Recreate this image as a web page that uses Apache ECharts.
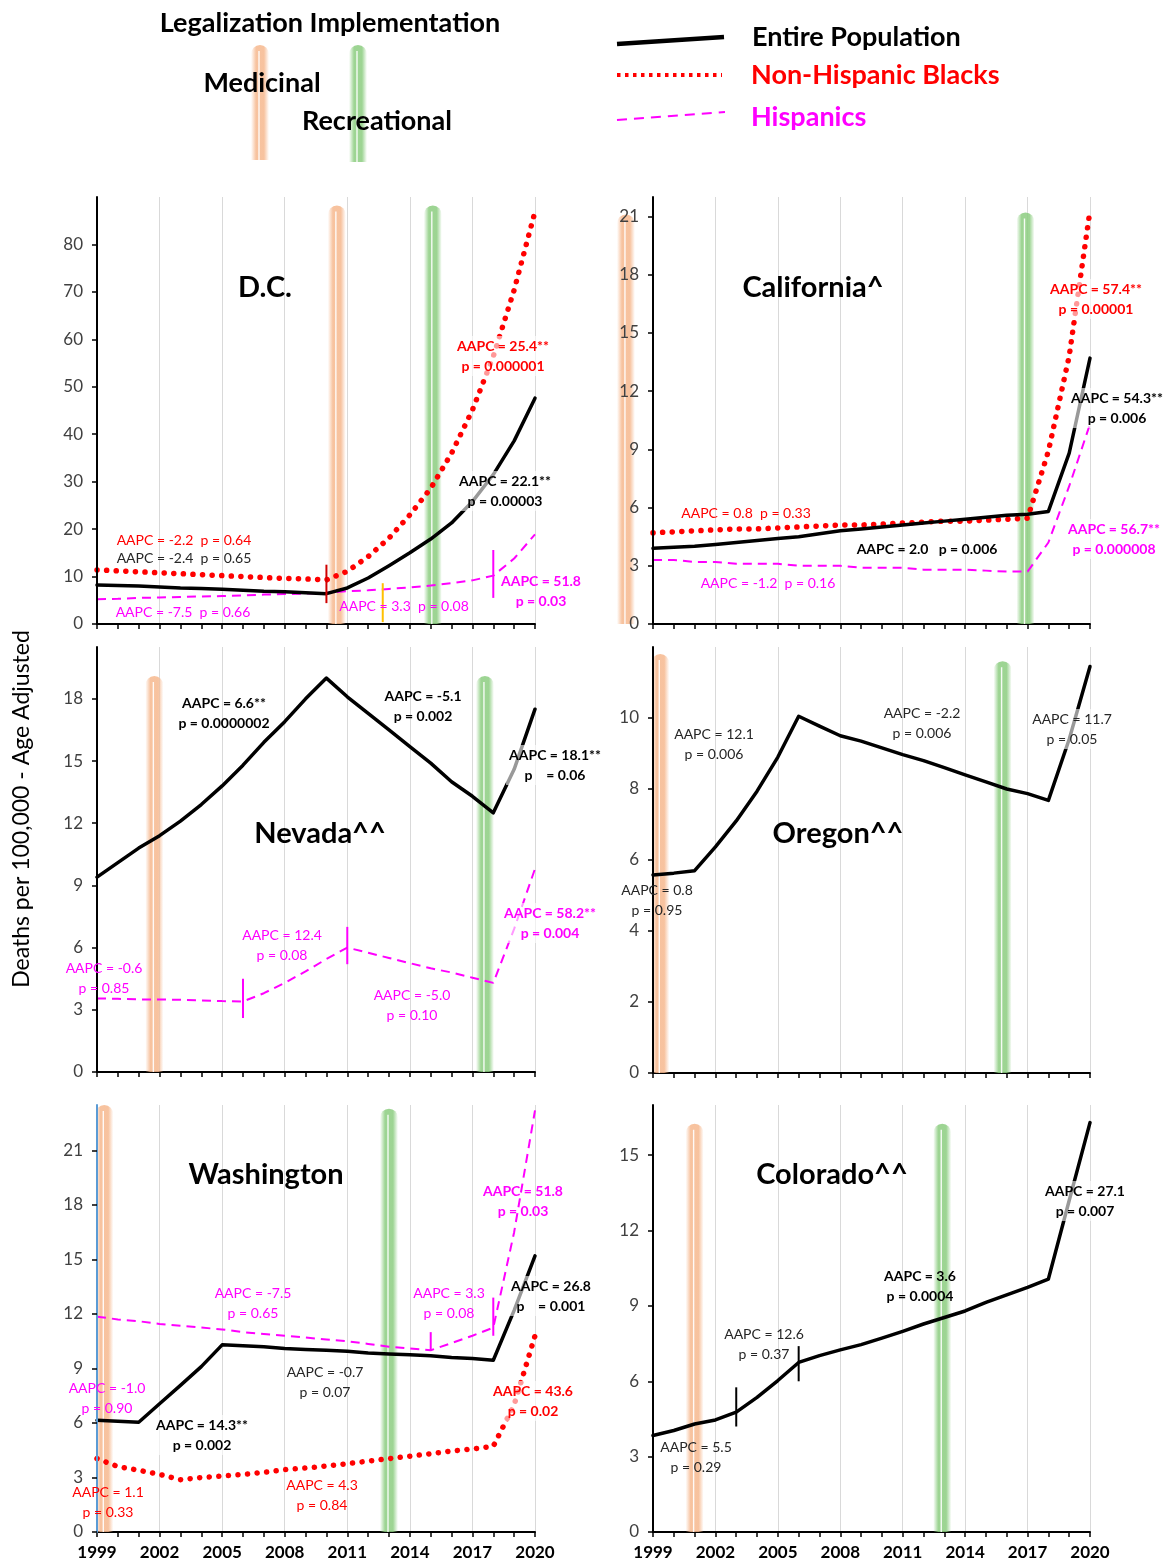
<!DOCTYPE html>
<html>
<head>
<meta charset="utf-8">
<script src="https://cdn.jsdelivr.net/npm/echarts@6/dist/echarts.min.js"></script>
<style>
  html, body { margin: 0; padding: 0; background: #fff; }
  #chart { width: 1168px; height: 1563px; }
</style>
</head>
<body>
<div id="chart"></div>
<script>
// ---- years and x-axis ticks ----
const BASE_YEAR = 1999;
const years = [1999, 2000, 2001, 2002, 2003, 2004, 2005, 2006, 2007, 2008, 2009,
               2010, 2011, 2012, 2013, 2014, 2015, 2016, 2017, 2018, 2019, 2020];
const xTickYears = [1999, 2002, 2005, 2008, 2011, 2014, 2017, 2020];

// ---- D.C. ----
const dcEntire    = [8.2, 8.1, 8.0, 7.8, 7.6, 7.5, 7.3, 7.1, 6.9, 6.8, 6.6, 6.4, 7.6, 9.7, 12.3, 15.0, 17.9, 21.3, 25.8, 31.5, 38.6, 47.6];
const dcBlacks    = [11.4, 11.2, 11.0, 10.8, 10.6, 10.4, 10.2, 10.0, 9.8, 9.6, 9.5, 9.3, 11.1, 14.2, 18.1, 23.0, 28.6, 36.0, 45.1, 56.4, 70.4, 86.9];
const dcHispanics = [5.2, 5.3, 5.5, 5.6, 5.7, 5.8, 5.9, 6.0, 6.2, 6.3, 6.4, 6.6, 6.9, 7.1, 7.4, 7.7, 8.1, 8.6, 9.2, 10.2, 13.8, 18.9];
const dcTicks = [0, 10, 20, 30, 40, 50, 60, 70, 80];

// ---- California ----
const caEntire    = [3.9, 3.95, 4.0, 4.1, 4.2, 4.3, 4.4, 4.5, 4.65, 4.8, 4.9, 5.0, 5.1, 5.2, 5.3, 5.4, 5.5, 5.6, 5.65, 5.8, 8.8, 13.7];
const caBlacks    = [4.7, 4.75, 4.8, 4.85, 4.9, 4.9, 4.95, 5.0, 5.05, 5.1, 5.1, 5.15, 5.2, 5.25, 5.3, 5.3, 5.35, 5.4, 5.45, 8.9, 13.8, 21.3];
const caHispanics = [3.3, 3.3, 3.2, 3.2, 3.1, 3.1, 3.1, 3.0, 3.0, 3.0, 2.9, 2.9, 2.9, 2.8, 2.8, 2.8, 2.75, 2.7, 2.7, 4.2, 7.1, 10.3];
const caTicks = [0, 3, 6, 9, 12, 15, 18, 21];

// ---- Nevada ----
const nvEntire    = [9.4, 10.1, 10.8, 11.4, 12.1, 12.9, 13.8, 14.8, 15.9, 16.9, 18.0, 19.0, 18.1, 17.3, 16.5, 15.7, 14.9, 14.0, 13.3, 12.5, 14.6, 17.5];
const nvHispanics = [3.55, 3.53, 3.5, 3.5, 3.48, 3.45, 3.42, 3.4, 3.8, 4.3, 4.85, 5.45, 6.0, 5.75, 5.5, 5.25, 5.0, 4.8, 4.55, 4.3, 6.9, 9.8];
const nvTicks = [0, 3, 6, 9, 12, 15, 18];

// ---- Oregon ----
const orEntire = [5.58, 5.63, 5.7, 6.37, 7.1, 7.94, 8.9, 10.05, 9.77, 9.5, 9.35, 9.16, 8.97, 8.8, 8.6, 8.4, 8.2, 8.0, 7.87, 7.68, 9.4, 11.45];
const orTicks = [0, 2, 4, 6, 8, 10];

// ---- Washington ----
const waEntire    = [6.15, 6.1, 6.04, 7.06, 8.07, 9.1, 10.3, 10.25, 10.2, 10.1, 10.05, 10.0, 9.95, 9.85, 9.8, 9.75, 9.7, 9.6, 9.55, 9.45, 12.2, 15.2];
const waBlacks    = [4.04, 3.6, 3.4, 3.17, 2.88, 3.0, 3.08, 3.17, 3.28, 3.43, 3.52, 3.63, 3.76, 3.9, 4.04, 4.17, 4.31, 4.46, 4.57, 4.72, 7.0, 10.8];
const waHispanics = [11.85, 11.7, 11.6, 11.45, 11.35, 11.25, 11.15, 11.0, 10.9, 10.8, 10.7, 10.6, 10.5, 10.35, 10.2, 10.1, 10.0, 10.4, 10.8, 11.25, 16.5, 23.2];
const waTicks = [0, 3, 6, 9, 12, 15, 18, 21];

// ---- Colorado ----
const coEntire = [3.84, 4.04, 4.3, 4.46, 4.77, 5.36, 6.03, 6.75, 7.02, 7.25, 7.46, 7.72, 7.99, 8.28, 8.54, 8.8, 9.14, 9.44, 9.74, 10.07, 13.2, 16.3];
const coTicks = [0, 3, 6, 9, 12, 15];

// ---- legalization implementation bands: [year, top value, kind] ----
const MEDICINAL = 0, RECREATIONAL = 1;
const dcBands = [[2010.5, 88.2, MEDICINAL], [2015.1, 88.2, RECREATIONAL]];
const caBands = [[1997.7, 21.1, MEDICINAL], [2016.9, 21.2, RECREATIONAL]];
const nvBands = [[2001.75, 19.1, MEDICINAL], [2017.6, 19.1, RECREATIONAL]];
const orBands = [[1999.35, 11.8, MEDICINAL], [2015.8, 11.6, RECREATIONAL]];
const waBands = [[1999.35, 23.5, MEDICINAL], [2013.0, 23.3, RECREATIONAL]];
const coBands = [[2001.0, 16.25, MEDICINAL], [2012.9, 16.25, RECREATIONAL]];

// ---- joinpoint markers: [year, low, high, group] ----
const dcJoins = [[2010, 4.4, 12.5, 'blacks'], [2012.7, 0.4, 8.6, 'hispanicsAlt'], [2018, 5.5, 15.6, 'hispanics']];
const nvJoins = [[2006, 2.6, 4.5, 'hispanics'], [2011, 5.2, 7.0, 'hispanics']];
const waJoins = [[2015, 10.0, 11.0, 'hispanics'], [2018, 10.8, 12.9, 'hispanics']];
const coJoins = [[2003, 4.2, 5.76, 'entire'], [2006, 6.0, 7.4, 'entire']];

// ---- styling ----
const FONT = 'Lato, "Open Sans", sans-serif';
const BLACK = '#000000', DARK = '#262626', RED = '#ff0000', MAG = '#ff00ff';
const MED_RGB = '246,184,142', REC_RGB = '140,205,128';
const JOIN_COLORS = { entire: '#000000', blacks: '#d00000', hispanics: '#ff00ff', hispanicsAlt: '#ffc000' };

const panels = [
  { entire: dcEntire, blacks: dcBlacks, hispanics: dcHispanics, yMax: 90,   ticks: dcTicks, bands: dcBands, joins: dcJoins, grid: [97, 197, 438, 427], showX: false },
  { entire: caEntire, blacks: caBlacks, hispanics: caHispanics, yMax: 22,   ticks: caTicks, bands: caBands, joins: [],      grid: [653, 197, 437, 427], showX: false },
  { entire: nvEntire, hispanics: nvHispanics,                   yMax: 20.5, ticks: nvTicks, bands: nvBands, joins: nvJoins, grid: [97, 647, 438, 425], showX: false },
  { entire: orEntire,                                           yMax: 12,   ticks: orTicks, bands: orBands, joins: [],      grid: [653, 647, 437, 426], showX: false },
  { entire: waEntire, blacks: waBlacks, hispanics: waHispanics, yMax: 23.5, ticks: waTicks, bands: waBands, joins: waJoins, grid: [97, 1105, 438, 427], showX: true, axisColor: '#5b9bd5' },
  { entire: coEntire,                                           yMax: 17,   ticks: coTicks, bands: coBands, joins: coJoins, grid: [653, 1105, 437, 427], showX: true }
];

// panel titles: [text, cx, cy]
const titles = [
  ['D.C.', 265, 288], ['California^', 813, 288], ['Nevada^^', 320, 834],
  ['Oregon^^', 838, 834], ['Washington', 266, 1175], ['Colorado^^', 832, 1175]
];

// AAPC annotations: [text, cx, cy, color, bold, backdrop]
const notes = [
  ['AAPC = -2.2  p = 0.64', 184, 540, RED, false, false],
  ['AAPC = -2.4  p = 0.65', 184, 558, DARK, false, false],
  ['AAPC = -7.5  p = 0.66', 183, 612, MAG, false, false],
  ['AAPC = 3.3  p = 0.08', 404, 606, MAG, false, false],
  ['AAPC = 51.8\np = 0.03', 541, 591, MAG, true, false],
  ['AAPC = 25.4**\np = 0.000001', 503, 356, RED, true, true],
  ['AAPC = 22.1**\np = 0.00003', 505, 491, BLACK, true, true],

  ['AAPC = 57.4**\np = 0.00001', 1096, 299, RED, true, true],
  ['AAPC = 54.3**\np = 0.006', 1117, 408, BLACK, true, true],
  ['AAPC = 0.8  p = 0.33', 746, 513, RED, false, false],
  ['AAPC = 2.0   p = 0.006', 927, 549, BLACK, true, false],
  ['AAPC = 56.7**\np = 0.000008', 1114, 539, MAG, true, true],
  ['AAPC = -1.2  p = 0.16', 768, 583, MAG, false, false],

  ['AAPC = 6.6**\np = 0.0000002', 224, 713, BLACK, true, false],
  ['AAPC = -5.1\np = 0.002', 423, 706, BLACK, true, false],
  ['AAPC = 18.1**\np    = 0.06', 555, 765, BLACK, true, true],
  ['AAPC = 12.4\np = 0.08', 282, 945, MAG, false, false],
  ['AAPC = -0.6\np = 0.85', 104, 978, MAG, false, false],
  ['AAPC = -5.0\np = 0.10', 412, 1005, MAG, false, false],
  ['AAPC = 58.2**\np = 0.004', 550, 923, MAG, true, true],

  ['AAPC = 12.1\np = 0.006', 714, 744, DARK, false, false],
  ['AAPC = -2.2\np = 0.006', 922, 723, DARK, false, false],
  ['AAPC = 11.7\np = 0.05', 1072, 729, DARK, false, true],
  ['AAPC = 0.8\np = 0.95', 657, 900, DARK, false, false],

  ['AAPC = 51.8\np = 0.03', 523, 1201, MAG, true, false],
  ['AAPC = -7.5\np = 0.65', 253, 1303, MAG, false, false],
  ['AAPC = 3.3\np = 0.08', 449, 1303, MAG, false, false],
  ['AAPC = 26.8\np    = 0.001', 551, 1296, BLACK, true, true],
  ['AAPC = -0.7\np = 0.07', 325, 1382, DARK, false, false],
  ['AAPC = -1.0\np = 0.90', 107, 1398, MAG, false, false],
  ['AAPC = 14.3**\np = 0.002', 202, 1435, BLACK, true, true],
  ['AAPC = 43.6\np = 0.02', 533, 1401, RED, true, true],
  ['AAPC = 4.3\np = 0.84', 322, 1495, RED, false, false],
  ['AAPC = 1.1\np = 0.33', 108, 1502, RED, false, false],

  ['AAPC = 27.1\np = 0.007', 1085, 1201, BLACK, true, true],
  ['AAPC = 3.6\np = 0.0004', 920, 1286, BLACK, true, false],
  ['AAPC = 12.6\np = 0.37', 764, 1344, DARK, false, false],
  ['AAPC = 5.5\np = 0.29', 696, 1457, DARK, false, false]
];

const toXY = vals => years.map((y, i) => [y - BASE_YEAR, vals[i]]);

// soft vertical stripe with a thin white core line
function softBand(cx, yTop, yBot, rgb) {
  const w = 18;
  const grad = new echarts.graphic.LinearGradient(0, 0, 1, 0, [
    { offset: 0, color: 'rgba(' + rgb + ',0)' },
    { offset: 0.28, color: 'rgba(' + rgb + ',0.85)' },
    { offset: 0.72, color: 'rgba(' + rgb + ',0.85)' },
    { offset: 1, color: 'rgba(' + rgb + ',0)' }
  ]);
  return [
    { type: 'rect', shape: { x: cx - w / 2, y: yTop, width: w, height: yBot - yTop, r: [9, 9, 0, 0] },
      style: { fill: grad } },
    { type: 'line', shape: { x1: cx - 1, y1: yTop + 6, x2: cx - 1, y2: yBot },
      style: { stroke: 'rgba(255,255,255,0.9)', lineWidth: 1.4 } }
  ];
}

function bandRenderer(params, api) {
  const x = api.value(0), top = api.value(1), kind = api.value(2);
  const pTop = api.coord([x, top]);
  const pBot = api.coord([x, 0]);
  return { type: 'group', children: softBand(pTop[0], pTop[1], pBot[1], kind === MEDICINAL ? MED_RGB : REC_RGB) };
}

const series = [];
panels.forEach((p, i) => {
  series.push({
    type: 'custom', xAxisIndex: i, yAxisIndex: i, z: 1, silent: true, clip: false,
    data: p.bands.map(b => [b[0] - BASE_YEAR, b[1], b[2]]),
    renderItem: bandRenderer
  });
  if (p.hispanics) series.push({
    type: 'line', xAxisIndex: i, yAxisIndex: i, z: 3, showSymbol: false, silent: true,
    data: toXY(p.hispanics),
    lineStyle: { color: MAG, width: 2, type: [9, 6] }
  });
  if (p.blacks) series.push({
    type: 'line', xAxisIndex: i, yAxisIndex: i, z: 3, showSymbol: false, silent: true,
    data: toXY(p.blacks),
    lineStyle: { color: RED, width: 5.5, type: [0.1, 9.5], cap: 'round' }
  });
  series.push({
    type: 'line', xAxisIndex: i, yAxisIndex: i, z: 4, showSymbol: false, silent: true,
    data: toXY(p.entire),
    lineStyle: { color: BLACK, width: 3.5, cap: 'round', join: 'round' }
  });
  if (p.joins.length) {
    const joins = p.joins;
    series.push({
      type: 'custom', xAxisIndex: i, yAxisIndex: i, z: 5, silent: true, clip: false,
      data: joins.map(j => [j[0] - BASE_YEAR, j[1], j[2]]),
      renderItem: (params, api) => {
        const a = api.coord([api.value(0), api.value(1)]);
        const b = api.coord([api.value(0), api.value(2)]);
        return { type: 'line', shape: { x1: a[0], y1: a[1], x2: b[0], y2: b[1] },
                 style: { stroke: JOIN_COLORS[joins[params.dataIndex][3]], lineWidth: 2 } };
      }
    });
  }
});

const graphic = [];
// legend: implementation bands
[[260, 45, 160, MED_RGB], [358, 45, 162, REC_RGB]].forEach(([cx, y0, y1, rgb]) => {
  softBand(cx, y0, y1, rgb).forEach(el => { el.z = 50; graphic.push(el); });
});
const LEGEND_FONT = 'bold 27px ' + FONT;
graphic.push(
  { type: 'text', z: 60, x: 330, y: 23, style: { text: 'Legalization Implementation', font: LEGEND_FONT, fill: BLACK, align: 'center', verticalAlign: 'middle' } },
  { type: 'text', z: 60, x: 262, y: 83, style: { text: 'Medicinal', font: LEGEND_FONT, fill: BLACK, align: 'center', verticalAlign: 'middle' } },
  { type: 'text', z: 60, x: 377, y: 121, style: { text: 'Recreational', font: LEGEND_FONT, fill: BLACK, align: 'center', verticalAlign: 'middle' } },
  // legend: series line samples
  { type: 'line', z: 60, shape: { x1: 617, y1: 44, x2: 724, y2: 37 }, style: { stroke: BLACK, lineWidth: 4.5 } },
  { type: 'line', z: 60, shape: { x1: 617, y1: 75, x2: 722, y2: 75 }, style: { stroke: RED, lineWidth: 4, lineDash: [3.5, 4.5] } },
  { type: 'line', z: 60, shape: { x1: 617, y1: 120, x2: 725, y2: 112 }, style: { stroke: MAG, lineWidth: 2, lineDash: [10, 7] } },
  { type: 'text', z: 60, x: 752, y: 37, style: { text: 'Entire Population', font: LEGEND_FONT, fill: BLACK, align: 'left', verticalAlign: 'middle' } },
  { type: 'text', z: 60, x: 751, y: 75, style: { text: 'Non-Hispanic Blacks', font: LEGEND_FONT, fill: RED, align: 'left', verticalAlign: 'middle' } },
  { type: 'text', z: 60, x: 751, y: 117, style: { text: 'Hispanics', font: LEGEND_FONT, fill: MAG, align: 'left', verticalAlign: 'middle' } },
  // shared y-axis title
  { type: 'text', z: 60, x: 22, y: 809, rotation: Math.PI / 2,
    style: { text: 'Deaths per 100,000 - Age Adjusted', font: '23px ' + FONT, fill: BLACK, align: 'center', verticalAlign: 'middle' } }
);
titles.forEach(([t, x, y]) => graphic.push({
  type: 'text', z: 100, x, y,
  style: { text: t, font: 'bold 29px ' + FONT, fill: BLACK, align: 'center', verticalAlign: 'middle' }
}));
notes.forEach(([t, x, y, col, bold, backdrop]) => graphic.push({
  type: 'text', z: 100, x, y,
  style: {
    text: t, font: (bold ? 'bold ' : '') + '14px ' + FONT, fill: col,
    align: 'center', verticalAlign: 'middle', lineHeight: 20,
    backgroundColor: backdrop ? 'rgba(255,255,255,0.6)' : null, padding: backdrop ? [0, 3] : 0
  }
}));

const option = {
  animation: false,
  backgroundColor: '#ffffff',
  grid: panels.map(p => ({ left: p.grid[0], top: p.grid[1], width: p.grid[2], height: p.grid[3] })),
  xAxis: panels.map((p, i) => ({
    type: 'value', gridIndex: i, min: 0, max: 21, interval: 3,
    axisLine: { show: true, onZero: false, lineStyle: { color: BLACK, width: 2 } },
    axisTick: { show: true, length: 5, lineStyle: { color: BLACK, width: 1.5 } },
    minorTick: { show: true, splitNumber: 3, length: 5, lineStyle: { color: BLACK, width: 1.5 } },
    splitLine: { show: true, lineStyle: { color: '#d9d9d9', width: 1 } },
    axisLabel: {
      show: p.showX, margin: 12, fontFamily: FONT, fontSize: 17, fontWeight: 'bold', color: BLACK,
      customValues: xTickYears.map(y => y - BASE_YEAR),
      formatter: v => String(BASE_YEAR + v)
    }
  })),
  yAxis: panels.map((p, i) => ({
    type: 'value', gridIndex: i, min: 0, max: p.yMax, z: 10,
    axisLine: { show: true, onZero: false, lineStyle: { color: p.axisColor || BLACK, width: 2 } },
    axisTick: { show: true, length: 5, customValues: p.ticks, lineStyle: { color: BLACK, width: 1.5 } },
    axisLabel: { customValues: p.ticks, margin: 14, fontFamily: FONT, fontSize: 17, color: '#404040' },
    splitLine: { show: false }
  })),
  series,
  graphic
};

const chart = echarts.init(document.getElementById('chart'), null, { renderer: 'canvas' });
chart.setOption(option);
</script>
</body>
</html>
